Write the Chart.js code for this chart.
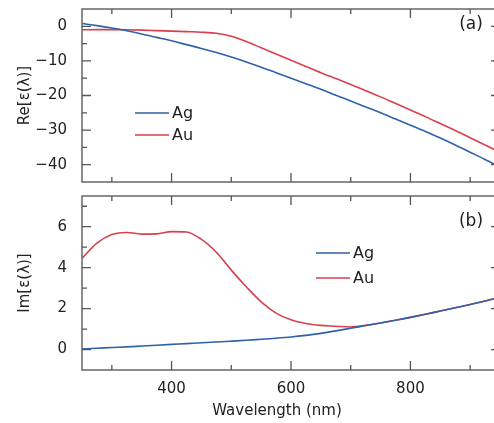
<!DOCTYPE html>
<html>
<head>
<meta charset="utf-8">
<script src="https://cdn.jsdelivr.net/npm/chart.js@4"></script>
<style>
  html, body { margin: 0; padding: 0; width: 494px; height: 423px; overflow: hidden; background: #fff; }
  canvas { position: absolute; left: 0; }
</style>
</head>
<body>
<canvas id="topChart" width="504" height="190" style="top:0px"></canvas>
<canvas id="bottomChart" width="504" height="233" style="top:190px"></canvas>
<script>
// wavelength grid (nm) shared by all curves
const wavelengths = [250, 275, 300, 325, 350, 375, 400, 425, 450, 475, 500, 525, 550, 575, 600,
  625, 650, 675, 700, 725, 750, 775, 800, 825, 850, 875, 900, 925, 950];

// Re[eps]
const agReal = [0.8, 0.2, -0.5, -1.3, -2.2, -3.2, -4.2, -5.3, -6.4, -7.6, -8.9, -10.3, -11.8, -13.4, -15.0,
  -16.6, -18.2, -19.9, -21.6, -23.3, -25.0, -26.8, -28.6, -30.4, -32.3, -34.3, -36.4, -38.5, -40.7];
const auReal = [-1.0, -0.95, -0.95, -1.0, -1.1, -1.25, -1.4, -1.55, -1.7, -2.0, -2.9, -4.4, -6.2, -8.0, -9.8,
  -11.6, -13.4, -15.1, -16.8, -18.6, -20.4, -22.3, -24.2, -26.1, -28.1, -30.1, -32.2, -34.3, -36.4];

// Im[eps]
const agImag = [0.03, 0.06, 0.1, 0.13, 0.17, 0.21, 0.25, 0.29, 0.33, 0.37, 0.41, 0.45, 0.5, 0.55, 0.61,
  0.69, 0.79, 0.91, 1.04, 1.17, 1.3, 1.43, 1.57, 1.72, 1.88, 2.04, 2.2, 2.37, 2.55];
const auImag = [4.45, 5.2, 5.62, 5.72, 5.64, 5.65, 5.76, 5.74, 5.38, 4.75, 3.88, 3.07, 2.33, 1.78, 1.45,
  1.27, 1.18, 1.14, 1.1, 1.18, 1.3, 1.43, 1.57, 1.72, 1.88, 2.04, 2.2, 2.37, 2.55];

const seriesNames = ['Ag', 'Au'];
const panelLabels = ['(a)', '(b)'];
const xTitle = 'Wavelength (nm)';

// ticks
const xMajor = [400, 600, 800];
const xMinor = [300, 500, 700, 900];
const reMajor = [0, -10, -20, -30, -40];
const reMinor = [-5, -15, -25, -35];
const imMajor = [0, 2, 4, 6];
const imMinor = [1, 3, 5, 7];

const AG_COLOR = '#2f62a6';
const AU_COLOR = '#d8404d';
const FRAME = '#707070';
const TEXT = '#222';
const FONT = 'DejaVu Sans, Verdana, sans-serif';

const pts = (ys) => ys.map((v, i) => ({ x: wavelengths[i], y: v }));
const minus = (v) => String(v).replace('-', '\u2212');

// frame, inward ticks, legend, panel letter (and x title, which sits left of the plot centre)
const panelDecor = {
  id: 'panelDecor',
  afterDatasetsDraw(chart, args, o) {
    const { ctx, chartArea: a, scales: { x, y } } = chart;
    ctx.save();
    ctx.strokeStyle = FRAME;
    ctx.lineWidth = 1.6;
    ctx.strokeRect(a.left, a.top, a.right - a.left, a.bottom - a.top);

    ctx.lineWidth = 1.3;
    ctx.strokeStyle = '#555';
    const xt = (vals, len) => vals.forEach(v => {
      const p = x.getPixelForValue(v);
      ctx.beginPath();
      ctx.moveTo(p, a.bottom); ctx.lineTo(p, a.bottom - len);
      ctx.moveTo(p, a.top); ctx.lineTo(p, a.top + len);
      ctx.stroke();
    });
    const yt = (vals, len) => vals.forEach(v => {
      const p = y.getPixelForValue(v);
      ctx.beginPath();
      ctx.moveTo(a.left, p); ctx.lineTo(a.left + len, p);
      ctx.moveTo(a.right, p); ctx.lineTo(a.right - len, p);
      ctx.stroke();
    });
    xt(xMajor, 9); xt(xMinor, 5);
    yt(o.yMajor, 9); yt(o.yMinor, 5);

    // legend
    ctx.font = '16px ' + FONT;
    ctx.textBaseline = 'middle';
    ctx.textAlign = 'left';
    chart.data.datasets.forEach((ds, i) => {
      const ly = o.legY + i * o.legGap;
      ctx.strokeStyle = ds.borderColor;
      ctx.lineWidth = 1.6;
      ctx.beginPath();
      ctx.moveTo(o.legX, ly); ctx.lineTo(o.legX + 34, ly);
      ctx.stroke();
      ctx.fillStyle = TEXT;
      ctx.fillText(ds.label, o.legX + 37, ly + 1);
    });

    ctx.font = '17px ' + FONT;
    ctx.textAlign = 'center';
    ctx.fillText(o.label, o.labX, o.labY);

    if (o.xTitle) {
      ctx.font = '15px ' + FONT;
      ctx.fillText(o.xTitle, 277, a.bottom + 41);
    }
    ctx.restore();
  }
};

function makeChart(id, d1, d2, opt) {
  return new Chart(document.getElementById(id), {
    type: 'line',
    data: {
      datasets: [
        { label: seriesNames[0], data: pts(d1), borderColor: AG_COLOR, borderWidth: 1.6, pointRadius: 0, cubicInterpolationMode: 'monotone' },
        { label: seriesNames[1], data: pts(d2), borderColor: AU_COLOR, borderWidth: 1.6, pointRadius: 0, cubicInterpolationMode: 'monotone' },
      ],
    },
    options: {
      responsive: false,
      animation: false,
      layout: { padding: { top: opt.padTop, right: 4, left: 0, bottom: 0 } },
      plugins: {
        legend: { display: false },
        tooltip: { enabled: false },
        panelDecor: opt.decor,
      },
      scales: {
        x: {
          type: 'linear',
          min: 250,
          max: 950,
          grid: { display: false },
          border: { display: false },
          afterBuildTicks: (s) => { s.ticks = xMajor.map(v => ({ value: v })); },
          afterFit: (s) => { s.height = opt.xHeight; s.paddingLeft = 0; s.paddingRight = 0; },
          ticks: { display: opt.showX, padding: 2, color: TEXT, font: { family: FONT, size: 15 } },
        },
        y: {
          min: opt.yMin,
          max: opt.yMax,
          grid: { display: false },
          border: { display: false },
          afterBuildTicks: (s) => { s.ticks = opt.decor.yMajor.map(v => ({ value: v })); },
          afterFit: (s) => { s.width = 82; s.paddingTop = 0; s.paddingBottom = 0; },
          ticks: { padding: 7, color: TEXT, font: { family: FONT, size: 15 }, callback: (v) => minus(v) },
          title: {
            display: true,
            text: opt.yTitle,
            color: TEXT,
            font: { family: FONT, size: 15 },
            padding: { top: 16, bottom: 0 },
          },
        },
      },
    },
    plugins: [panelDecor],
  });
}

makeChart('topChart', agReal, auReal, {
  padTop: 9, xHeight: 8, showX: false, yMin: -45, yMax: 5, yTitle: 'Re[\u03b5(\u03bb)]',
  decor: { yMajor: reMajor, yMinor: reMinor, legX: 135, legY: 113, legGap: 22, label: panelLabels[0], labX: 471, labY: 25 },
});

makeChart('bottomChart', agImag, auImag, {
  padTop: 6, xHeight: 53, showX: true, yMin: -1, yMax: 7.5, yTitle: 'Im[\u03b5(\u03bb)]',
  decor: { yMajor: imMajor, yMinor: imMinor, legX: 316, legY: 63, legGap: 25, label: panelLabels[1], labX: 471, labY: 32, xTitle: xTitle },
});
</script>
</body>
</html>
